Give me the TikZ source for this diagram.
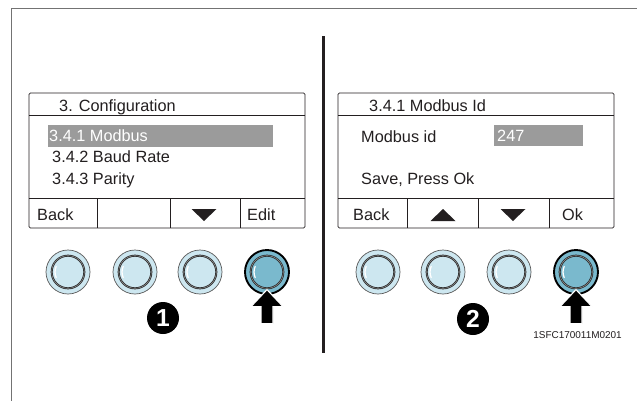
\documentclass[tikz,border=0pt]{standalone}
\usepackage{fontspec}
\setmainfont{Liberation Sans}
\usepackage{tikz}
\usepackage{xcolor}
\definecolor{ink}{HTML}{231F20}
\definecolor{keylight}{HTML}{CDE7F0}
\definecolor{keydark}{HTML}{7AB9CD}
\definecolor{hilite}{HTML}{9B9B9B}

\begin{document}
\begin{tikzpicture}[x=0.3mm,y=-0.3mm,every node/.style={font=\fontsize{13.9}{16}\selectfont},
  lbl/.style={anchor=base west,inner sep=0pt,text=ink},
  scr/.style={draw=ink,line width=0.7pt,rounded corners=1.2pt},
  rule/.style={draw=ink,line width=0.7pt},
  key/.style={circle,inner sep=0pt,minimum size=13.2mm,fill=keylight,draw=black!65,line width=0.6pt,
    path picture={
      \draw[draw=black!85,double=black!45,double distance=0.5pt,line width=0.6pt] (path picture bounding box.center) circle (4.9mm);
      \draw[white,line width=1.1pt,line cap=round] ([shift={(155:3.9mm)}]path picture bounding box.center) arc (155:205:3.9mm);}},
  pressed/.style={key,fill=keydark,draw=black,line width=1.6pt},
  badge/.style={circle,fill=black,text=white,inner sep=0pt,minimum size=9.6mm,font=\fontsize{21}{21}\selectfont\bfseries},
  push/.style={fill=black,draw=white,line width=1pt,line join=miter}]
\useasboundingbox (0,0) rectangle (637,401);
\fill[white] (0,0) rectangle (637,401);
\draw[black!55,line width=0.8pt] (637,8) -- (11,8) -- (11,401);
\draw[ink,line width=2pt] (323.5,36) -- (323.5,353);

\draw[scr] (29,93) rectangle (305,228);
\draw[rule] (29,115) -- (305,115);
\draw[rule] (29,198) -- (305,198);
\draw[rule] (97,198) -- (97,228);
\draw[rule] (170,198) -- (170,228);
\draw[rule] (240,198) -- (240,228);
\fill[hilite] (48,125) rectangle (273,147);
\node[lbl] (cfgtitle) at (59,111) {3. Configuration};
\node[lbl,text=white] (cfgmodbus) at (49,141) {3.4.1 Modbus};
\node[lbl] (cfgbaud) at (52,162) {3.4.2 Baud Rate};
\node[lbl] (cfgparity) at (52,184) {3.4.3 Parity};
\node[lbl] (cfgback) at (37,220) {Back};
\node[lbl] (cfgedit) at (247,220) {Edit};
\fill[ink] (191.5,209) -- (216.5,209) -- (204,221) -- cycle;

\draw[scr] (338,93) rectangle (614,228);
\draw[rule] (338,115) -- (614,115);
\draw[rule] (338,198) -- (614,198);
\draw[rule] (407,198) -- (407,228);
\draw[rule] (478,198) -- (478,228);
\draw[rule] (549,198) -- (549,228);
\fill[hilite] (494,125) rectangle (583,146);
\node[lbl] (idtitle) at (369,111) {3.4.1 Modbus Id};
\node[lbl] (idlabel) at (361,142) {Modbus id};
\node[lbl,text=white] (idvalue) at (497,141) {247};
\node[lbl] (idsave) at (361,184) {Save, Press Ok};
\node[lbl] (idback) at (353,220) {Back};
\node[lbl] (idok) at (562,220) {Ok};
\fill[ink] (430.5,221) -- (455.5,221) -- (443,209) -- cycle;
\fill[ink] (500.5,209) -- (525.5,209) -- (513,221) -- cycle;

\node[key] (ka) at (68,272) {};
\node[key] (kb) at (135,272) {};
\node[key] (kc) at (200,272) {};
\node[pressed] (kd) at (267,272) {};
\filldraw[push] ([yshift=1.6mm]kd.south) -- ++(16,17) -- ++(-10,0) -- ++(0,17) -- ++(-12,0) -- ++(0,-17) -- ++(-10,0) -- cycle;
\node[badge] (stepone) at (163,318) {1};

\node[key] (ke) at (378,272) {};
\node[key] (kf) at (443,272) {};
\node[key] (kg) at (509,272) {};
\node[pressed] (kh) at (576,272) {};
\filldraw[push] ([yshift=1.6mm]kh.south) -- ++(16,17) -- ++(-10,0) -- ++(0,17) -- ++(-12,0) -- ++(0,-17) -- ++(-10,0) -- cycle;
\node[badge] (steptwo) at (473,319) {2};

\node[anchor=base east,inner sep=0pt,text=ink,font=\fontsize{8.5}{10}\selectfont] (docid) at (622,338.5) {1SFC170011M0201};
\end{tikzpicture}
\end{document}
